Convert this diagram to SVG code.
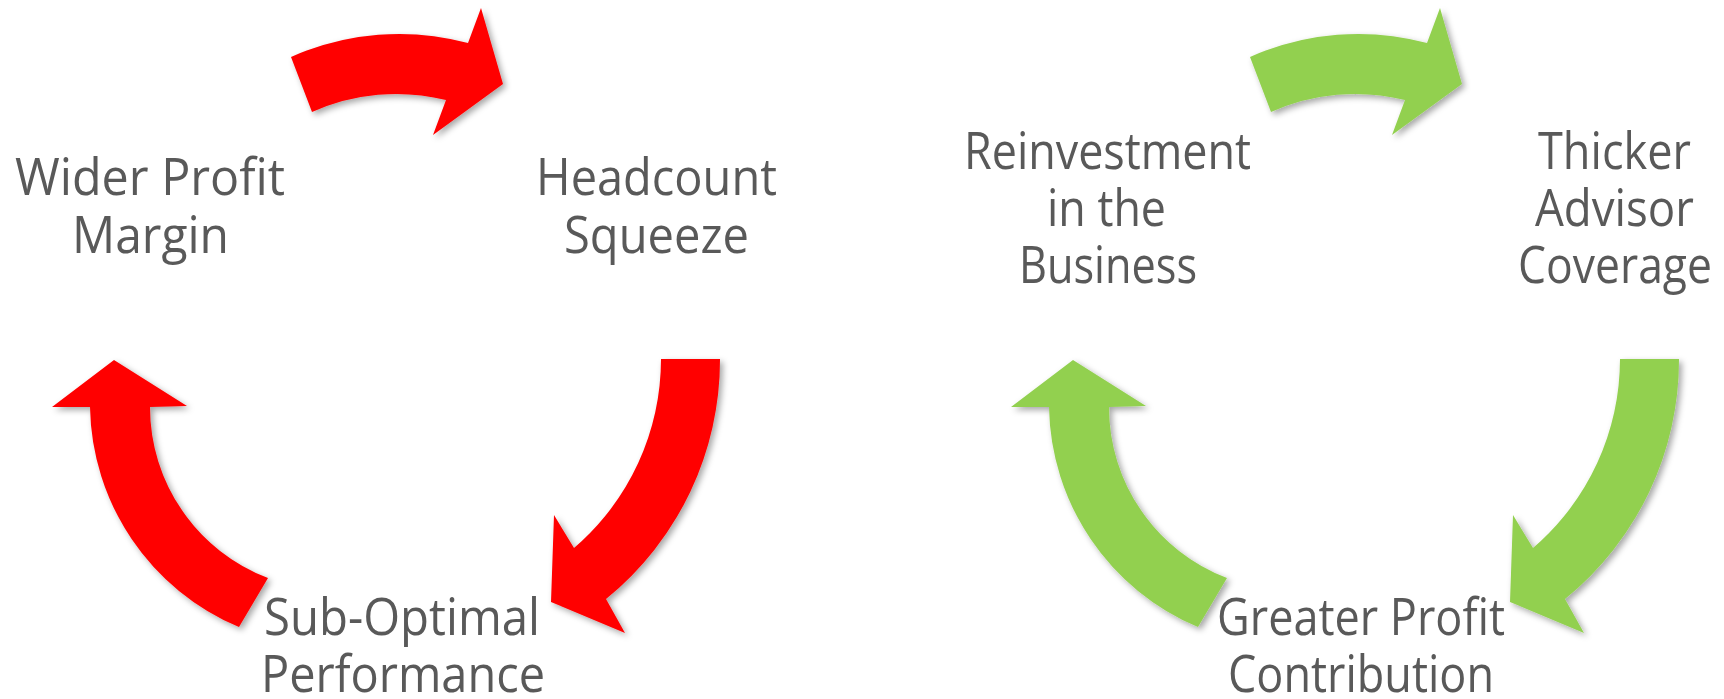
<svg xmlns="http://www.w3.org/2000/svg" width="1724" height="699" viewBox="0 0 1724 699">
  <style>
    .lbl { font-family: "Open Sans", "Noto Sans", "Liberation Sans", sans-serif; font-size: 52px; fill: #595959; }
    .red { fill: #FF0000; }
    .green { fill: #92D050; }
  </style>
  <defs>
    <filter id="shadow" x="-20%" y="-20%" width="140%" height="140%">
      <feDropShadow dx="3" dy="3" stdDeviation="3" flood-color="#000" flood-opacity="0.35"/>
    </filter>
    <!-- circular block arrows of one cycle -->
    <path id="arcTop" d="M291,57 A265,265 0 0 1 468,43 L481,8 L503,84 L433,135 L446,100 A206,206 0 0 0 312,112 Z"/>
    <path id="arcRight" d="M661,359 L720,359 A308,308 0 0 1 606,599 L625,633 L551,602 L554,515 L574,548 A249,249 0 0 0 661,359 Z"/>
    <path id="arcLeft" d="M268,578 A183,183 0 0 1 150,407 L187,406 L114,360 L52,407 L90,407 A243,243 0 0 0 239,627 Z"/>
  </defs>

  <rect width="1724" height="699" fill="#FFFFFF"/>

  <g id="connectors" filter="url(#shadow)">
    <g class="red">
      <use href="#arcTop"/>
      <use href="#arcRight"/>
      <use href="#arcLeft"/>
    </g>
    <g class="green" transform="translate(959,0)">
      <use href="#arcTop"/>
      <use href="#arcRight"/>
      <use href="#arcLeft"/>
    </g>
  </g>

  <g id="wider-profit-margin" class="lbl">
    <text x="15" y="195" textLength="270" lengthAdjust="spacingAndGlyphs">Wider Profit</text>
    <text x="72" y="253" textLength="157" lengthAdjust="spacingAndGlyphs">Margin</text>
  </g>
  <g id="headcount-squeeze" class="lbl">
    <text x="536" y="195" textLength="241" lengthAdjust="spacingAndGlyphs">Headcount</text>
    <text x="564" y="253" textLength="185" lengthAdjust="spacingAndGlyphs">Squeeze</text>
  </g>
  <g id="sub-optimal-performance" class="lbl">
    <text x="264" y="635" textLength="276" lengthAdjust="spacingAndGlyphs">Sub-Optimal</text>
    <text x="261" y="692" textLength="284" lengthAdjust="spacingAndGlyphs">Performance</text>
  </g>
  <g id="reinvestment" class="lbl">
    <text x="964" y="169" textLength="287" lengthAdjust="spacingAndGlyphs">Reinvestment</text>
    <text x="1047" y="226" textLength="119" lengthAdjust="spacingAndGlyphs">in the</text>
    <text x="1019" y="283" textLength="178" lengthAdjust="spacingAndGlyphs">Business</text>
  </g>
  <g id="thicker-advisor-coverage" class="lbl">
    <text x="1538" y="169" textLength="153" lengthAdjust="spacingAndGlyphs">Thicker</text>
    <text x="1535" y="226" textLength="159" lengthAdjust="spacingAndGlyphs">Advisor</text>
    <text x="1518" y="283" textLength="194" lengthAdjust="spacingAndGlyphs">Coverage</text>
  </g>
  <g id="greater-profit-contribution" class="lbl">
    <text x="1217" y="635" textLength="288" lengthAdjust="spacingAndGlyphs">Greater Profit</text>
    <text x="1228" y="692" textLength="266" lengthAdjust="spacingAndGlyphs">Contribution</text>
  </g>
</svg>
